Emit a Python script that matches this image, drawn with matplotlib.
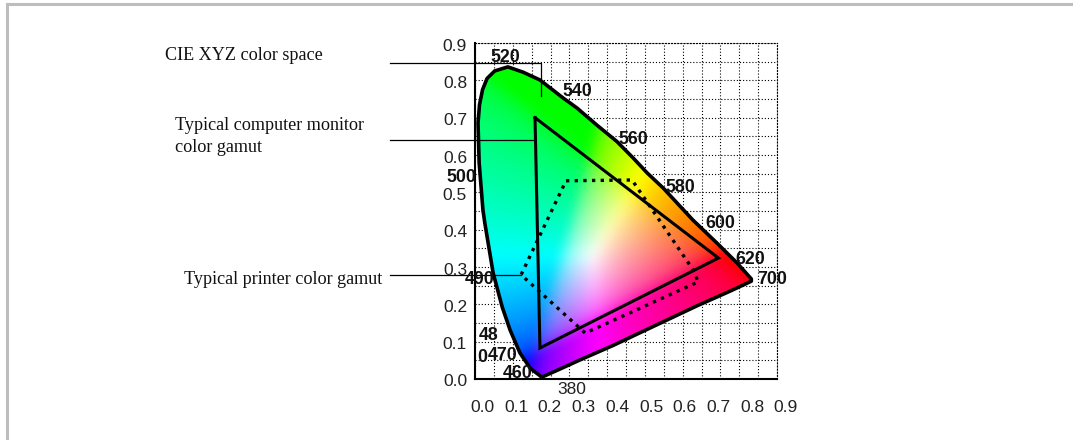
import numpy as np
import matplotlib
matplotlib.use("Agg")
import matplotlib.pyplot as plt
from matplotlib.patches import Polygon
from matplotlib.lines import Line2D

W, H = 1073, 440
L, R, T, B = 475, 777, 43, 379

locus_x = [.177,.146,.119,.093,.072,.048,.026,.021,.011,.008,.012,.020,.032,.052,.087,.127,.172,.233,.270,.323,.376,.419,.456,.498,.577,.641,.694,.732,.732,.675,.588,.498,.366,.278,.217]
locus_y = [.005,.029,.070,.131,.193,.284,.418,.453,.579,.686,.735,.775,.805,.825,.836,.822,.801,.753,.726,.680,.636,.592,.552,.512,.426,.364,.311,.268,.262,.235,.196,.153,.090,.051,.023]
monitor_x = [0.159,0.645,0.172]
monitor_y = [0.700,0.324,0.083]
printer_x = [0.241,0.416,0.578,0.591,0.292,0.122]
printer_y = [0.531,0.533,0.292,0.260,0.123,0.279]

y_ticklabels = ["0.0","0.1","0.2","0.3","0.4","0.5","0.6","0.7","0.8","0.9"]
x_ticklabels = y_ticklabels
wl_labels = ["520","540","560","580","600","620","700","500","490","48","0","470","460"]
wl_px = [505,577,633,680,720,750,772,461,480,489,482,503,518]
wl_py = [57,92,139,187,223,260,279,178,280,335,357,356,373]
callouts = ["CIE XYZ color space","Typical computer monitor","color gamut","Typical printer color gamut"]
call_px = [165,175,175,184]
call_py = [55,126,147,280]

fig = plt.figure(figsize=(W/100,H/100),dpi=100,facecolor="white")
fig.add_artist(Line2D([7/W,7/W],[0,1-4/H],color="#bdbdbd",lw=2.2))
fig.add_artist(Line2D([7/W,1],[1-4/H,1-4/H],color="#bdbdbd",lw=2.2))
ax = fig.add_axes([L/W,1-B/H,(R-L)/W,(B-T)/H])
ax.set_xlim(0,0.8); ax.set_ylim(0,0.9)
ax.set_xticks(np.arange(0,0.81,0.05)); ax.set_yticks(np.arange(0,0.91,0.05))
ax.tick_params(length=0,labelbottom=False,labelleft=False)
dot = (0,(1,1.8))
ax.grid(True,color="black",ls=dot,lw=0.8,zorder=1)
ax.set_axisbelow(True)
for s in ("top","right"):
    ax.spines[s].set_linestyle(dot); ax.spines[s].set_linewidth(0.8)
for s in ("left","bottom"):
    ax.spines[s].set_linewidth(1.5)

xs = np.linspace(0,0.8,640); ys = np.linspace(0,0.9,720)
gx,gy = np.meshgrid(xs,ys)
gy2 = np.maximum(gy,1e-3)
X = gx/gy2; Y = np.ones_like(gx); Z = (1-gx-gy)/gy2
M = np.array([[3.2406,-1.5372,-0.4986],[-0.9689,1.8758,0.0415],[0.0557,-0.2040,1.0570]])
rgb = np.stack([M[i,0]*X+M[i,1]*Y+M[i,2]*Z for i in range(3)],axis=-1)
rgb = np.clip(rgb,0,None)
rgb = rgb/np.maximum(rgb.max(axis=-1,keepdims=True),1e-6)
rgb = np.power(rgb,1/2.4)
k = np.exp(-0.5*(np.arange(-36,37)/12.0)**2); k /= k.sum()
pad_n = 36
for c in range(3):
    a = np.pad(rgb[...,c],pad_n,mode="edge")
    a = np.apply_along_axis(lambda v: np.convolve(v,k,mode="same"),0,a)
    a = np.apply_along_axis(lambda v: np.convolve(v,k,mode="same"),1,a)
    rgb[...,c] = a[pad_n:-pad_n,pad_n:-pad_n]
rgb = np.clip(rgb,0,1)

poly = Polygon(np.column_stack([locus_x,locus_y]),closed=True,fc="none",ec="black",lw=2.6,zorder=3,joinstyle="round")
ax.add_patch(poly)
im = ax.imshow(rgb,origin="lower",extent=[0,0.8,0,0.9],aspect="auto",zorder=2,interpolation="bilinear")
im.set_clip_path(poly)
ax.plot(monitor_x+monitor_x[:1],monitor_y+monitor_y[:1],color="black",lw=2.2,zorder=4,solid_joinstyle="miter")
ax.plot(printer_x+printer_x[:1],printer_y+printer_y[:1],color="black",lw=2.4,ls=(0,(1,1.6)),zorder=4)

pad = dict(family="Liberation Sans",color="#222222",fontsize=12.5)
ov = fig.add_axes([0,0,1,1],facecolor="none"); ov.set_xlim(0,W); ov.set_ylim(H,0); ov.axis("off")
for i,t in enumerate(x_ticklabels):
    ov.text(482.5+33.7*i,407,t,ha="center",va="center",**pad)
for i,t in enumerate(y_ticklabels):
    ov.text(467,382-37.3*i,t,ha="right",va="center",**pad)
ov.text(572,390,"380",ha="center",va="center",**pad)
for t,x,y in zip(wl_labels,wl_px,wl_py):
    ov.text(x,y,t,family="Liberation Sans",weight="bold",fontsize=12.8,color="#111111",ha="center",va="center")
for t,x,y in zip(callouts,call_px,call_py):
    ov.text(x,y,t,family="Liberation Serif",fontsize=13.1,color="#111111",ha="left",va="center")
lk = dict(color="black",lw=0.9)
ov.plot([390,541,541],[63,63,96],**lk)
ov.plot([390,535],[140,140],**lk)
ov.plot([390,521],[275,275],**lk)
fig.savefig("out.png",dpi=100)
